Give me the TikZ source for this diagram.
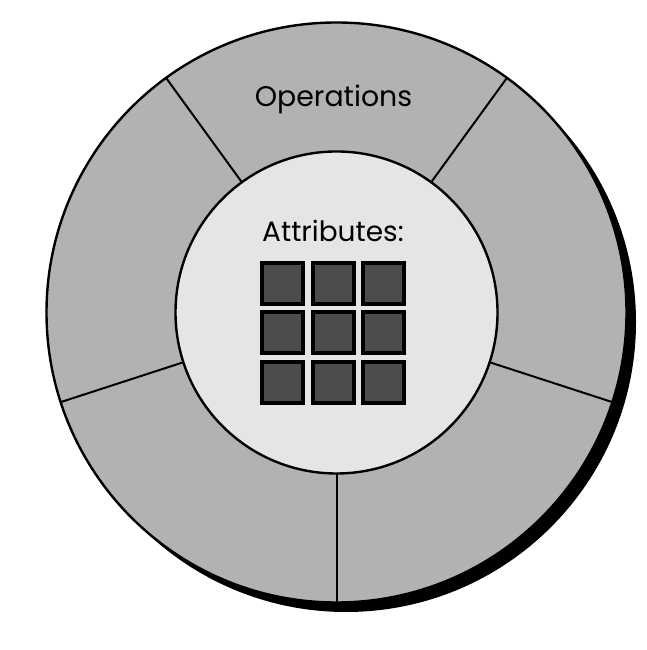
\documentclass[tikz,border=0pt]{standalone}
\usepackage{fontspec}
\setmainfont{Poppins}
\definecolor{ring}{gray}{0.70}
\definecolor{core}{gray}{0.90}
\definecolor{cellgray}{gray}{0.30}
\tikzset{
  cell/.style={draw=black, line width=4pt, fill=cellgray, minimum size=41pt, inner sep=0pt},
  label/.style={inner sep=0pt, anchor=base}
}

\begin{document}
\begin{tikzpicture}[x=1pt,y=1pt]
    \useasboundingbox (0,0) rectangle (647,650);
    \coordinate (c) at (336.5,337.5);
    \coordinate (sh) at (346,328);
    % shadow and outer ring
    \fill[black] (sh) circle (290);
    \draw[fill=ring, line width=2.4pt] (c) circle (290);
    \foreach \a in {54,126,198,270,342}
        \draw[line width=2pt] (c) ++(\a:161) -- ++(\a:129);
    \draw[fill=core, line width=2.4pt] (c) circle (161);
    \node[label, font=\fontsize{28.4}{31}\selectfont] (ops) at (333.5,543.5) {Operations};
    \node[label, font=\fontsize{28}{31}\selectfont] (attr) at (333,408.5) {Attributes:};
    % the attribute cells
    \foreach \i in {0,1,2}
        \foreach \j in {0,1,2}
            \node[cell] (a\i\j) at (282.5+50.5*\i, 366.5-49.5*\j) {};
\end{tikzpicture}
\end{document}
